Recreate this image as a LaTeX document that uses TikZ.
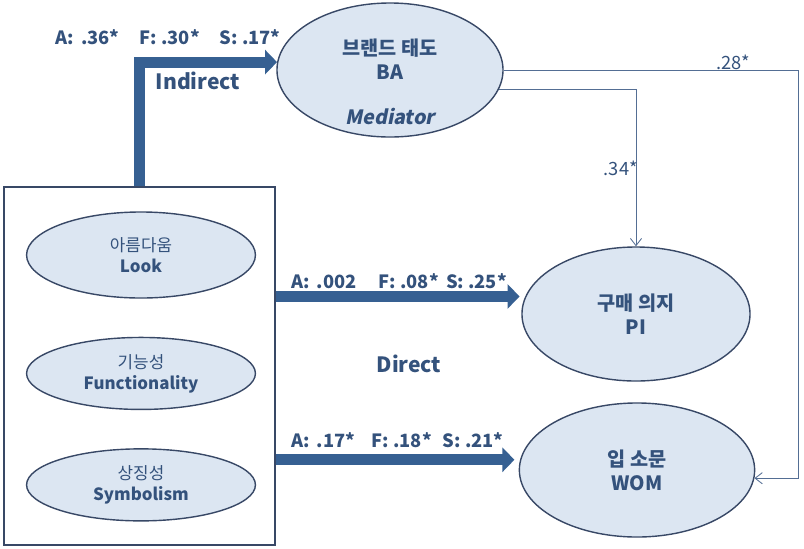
\documentclass[tikz,border=0pt]{standalone}
\usepackage{fontspec}
\setmainfont{Noto Sans CJK KR}
\newfontfamily\slantfont{Noto Sans CJK KR}[FakeSlant=0.2]
\usepackage{xcolor}
\definecolor{pathBlue}{RGB}{54,96,146}
\definecolor{labelBlue}{RGB}{52,82,124}
\definecolor{ovalFill}{RGB}{220,230,242}
\definecolor{ovalDraw}{RGB}{56,72,102}
\definecolor{lineBlue}{RGB}{84,110,148}
\usetikzlibrary{arrows.meta,positioning,shapes.geometric}

\begin{document}
\begin{tikzpicture}[x=0.025cm, y=-0.025cm,
    oval/.style={ellipse, draw=ovalDraw, line width=1pt, fill=ovalFill,
      inner sep=0pt, align=center, text=labelBlue},
    factor/.style={oval, minimum width=5.72cm, minimum height=1.8cm,
      font=\fontsize{12}{15}\selectfont},
    outcome/.style={oval, minimum width=5.7cm, minimum height=3.35cm,
      font=\fontsize{14}{17}\selectfont\bfseries},
    coef/.style={text=labelBlue, font=\fontsize{13}{15}\selectfont\bfseries, inner sep=0pt},
    bigarrow/.style={draw=pathBlue, line width=2.75mm,
      -{Triangle[width=6mm, length=3mm]}},
    thinarrow/.style={draw=lineBlue, line width=0.6pt,
      -{Straight Barb[length=1.8mm, width=2.8mm]}},
    node distance=0.95cm
  ]
    \useasboundingbox (0,0) rectangle (804,548);

    % antecedents
    \node[draw=ovalDraw, line width=1pt, minimum width=6.78cm, minimum height=8.95cm,
      inner sep=0pt] (factors) at (139.5,366) {};
    \node[factor, minimum height=2.15cm] (look) at (141,255) {아름다움\\\textbf{Look}};
    \node[factor, below=of look] (func) {기능성\\\textbf{Functionality}};
    \node[factor, below=of func] (symb) {상징성\\\textbf{Symbolism}};

    % mediator and outcomes
    \node[outcome, minimum width=5.65cm] (ba) at (390,70) {};
    \node[text=labelBlue, align=center, font=\fontsize{14}{17}\selectfont\bfseries]
      (batext) at (390,82) {브랜드 태도\\BA\\[15pt]{\slantfont\bfseries Mediator}};
    \node[outcome] (pi) at (636,314) {구매 의지\\PI};
    \node[outcome, minimum width=5.88cm] (wom) at (637,470) {입 소문\\WOM};

    % paths
    \draw[bigarrow] (factors.north) |- (ba.176);
    \draw[bigarrow, shorten >=4pt] (pi.171 -| factors.east) -- (pi.171);
    \draw[bigarrow, shorten >=4pt] (wom.175 -| factors.east) -- (wom.175);
    \coordinate (rail) at (798,0);
    \draw[thinarrow] (ba.east) -- (ba.east -| rail) |- (wom.356);
    \draw[thinarrow] (ba.350) -| (pi.north);

    % coefficients
    \node[coef] (indcoef) at (168,37) {A:~\,.36*\hspace{1.1em}F:~.30*\hspace{1.1em}S:~.17*};
    \node[coef, font=\fontsize{15}{17}\selectfont\bfseries] (indirect) at (198,81) {Indirect};
    \node[coef, anchor=west] (picoef) at (291,281) {A:~\,.002\hspace{1.2em}F:~.08*\hspace{0.4em}S:~.25*};
    \node[coef, font=\fontsize{15}{17}\selectfont\bfseries] (direct) at (409,364) {Direct};
    \node[coef, anchor=west] (womcoef) at (291,440) {A:~\,.17*\hspace{0.9em}F:~.18*\hspace{0.6em}S:~.21*};
    \node[coef, font=\fontsize{13}{15}\selectfont] (bawom) at (733,62) {.28*};
    \node[coef, font=\fontsize{13}{15}\selectfont, anchor=east] (bapi) at (638,168) {.34*};
  \end{tikzpicture}
\end{document}
